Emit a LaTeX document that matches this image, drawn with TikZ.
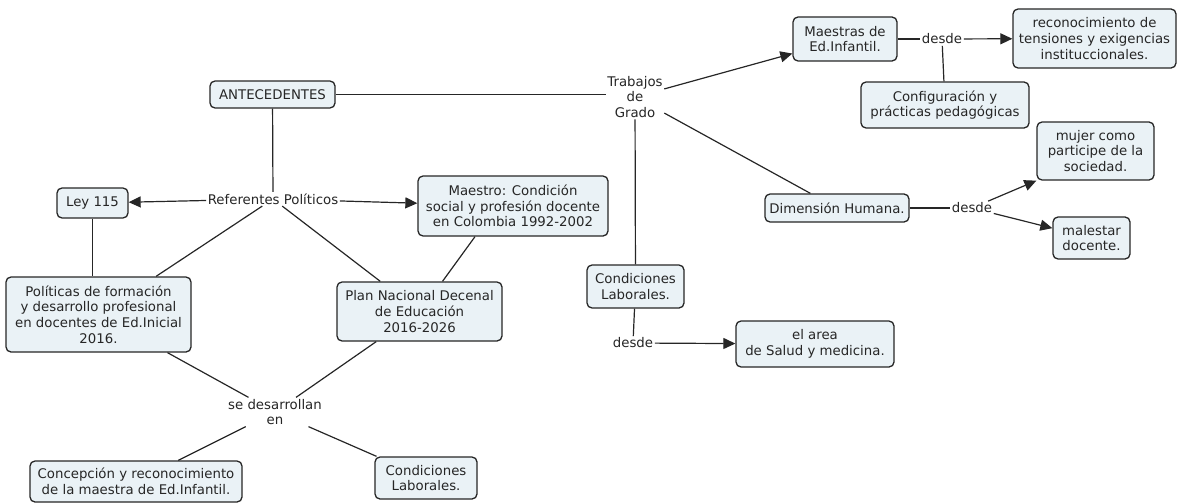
\documentclass[tikz,border=0pt]{standalone}
\usepackage{fontspec}
\setmainfont{DejaVu Sans}
\usetikzlibrary{arrows.meta}
\definecolor{boxfill}{RGB}{234,242,246}
\definecolor{ink}{RGB}{38,38,38}
\begin{document}
\begin{tikzpicture}[x=1pt,y=-1pt,
  every node/.style={font=\fontsize{13.3}{15.6}\selectfont, text=ink},
  concept/.style={rectangle, rounded corners=5pt, draw=ink, line width=1.3pt,
    fill=boxfill, align=center, inner sep=0pt},
  phrase/.style={fill=white, align=center, inner sep=1.5pt},
  link/.style={draw=ink, line width=1.2pt},
  arrowlink/.style={link, -{Triangle[length=12pt,width=11pt]}}]
\useasboundingbox (0,0) rectangle (1177,503);
% concept boxes
\node[concept, minimum width=125, minimum height=27] (ante) at (272.5,94.5) {ANTECEDENTES};
\node[concept, minimum width=104, minimum height=44] (maes) at (845,39) {Maestras de\\Ed.Infantil.};
\node[concept, minimum width=163, minimum height=59] (recon) at (1094.5,38.5) {reconocimiento de\\tensiones y exigencias\\instituccionales.};
\node[concept, minimum width=168, minimum height=46] (config) at (945,105) {Configuración y\\prácticas pedagógicas};
\node[concept, minimum width=144, minimum height=28] (dim) at (837,208) {Dimensión Humana.};
\node[concept, minimum width=117, minimum height=58] (mujer) at (1095.5,151) {mujer como\\participe de la\\sociedad.};
\node[concept, minimum width=77, minimum height=42] (malest) at (1091.5,238) {malestar\\docente.};
\node[concept, minimum width=97, minimum height=43] (condR) at (635.5,286.5) {Condiciones\\Laborales.};
\node[concept, minimum width=158, minimum height=46] (area) at (815,344) {el area\\de Salud y medicina.};
\node[concept, minimum width=71, minimum height=30] (ley) at (92.5,203) {Ley 115};
\node[concept, minimum width=190, minimum height=60] (maestro) at (513,206) {Maestro: Condición\\social y profesión docente\\en Colombia 1992-2002};
\node[concept, minimum width=185, minimum height=75] (polit) at (98.5,314.5) {Políticas de formación\\y desarrollo profesional\\en docentes de Ed.Inicial\\2016.};
\node[concept, minimum width=165, minimum height=59] (plan) at (419.5,311.5) {Plan Nacional Decenal\\de Educación\\2016-2026};
\node[concept, minimum width=212, minimum height=41] (concep) at (136,481.5) {Concepción y reconocimiento\\de la maestra de Ed.Infantil.};
\node[concept, minimum width=102, minimum height=42] (condL) at (426,478) {Condiciones\\Laborales.};
% linking phrases
\node[phrase] (trab) at (635,97) {Trabajos\\de\\Grado};
\node[phrase] (ref) at (273,199) {Referentes Políticos};
\node[phrase] (desdeA) at (942,39) {desde};
\node[phrase] (desdeB) at (972,208) {desde};
\node[phrase] (desdeC) at (633,343) {desde};
\node[phrase] (sedes) at (275,412) {se desarrollan\\en};
% attachment points on the Maestro and Plan boxes
\coordinate (mb) at ([xshift=-38pt]maestro.south);
\coordinate (pt) at ([xshift=23pt]plan.north);
% connectors
\draw[link] (ante) -- (trab.west |- ante);
\draw[link] (ante) -- (ref);
\draw[arrowlink] (ref) -- (ley);
\draw[arrowlink] (ref) -- (maestro);
\draw[link] (ref) -- (polit);
\draw[link] (ref) -- (plan);
\draw[link] (ley) -- (polit.north -| ley);
\draw[link] (mb) -- (pt);
\draw[link] (polit) -- (sedes);
\draw[link] (plan) -- (sedes);
\draw[link] (sedes) -- (concep);
\draw[link] (sedes) -- (condL);
\draw[arrowlink] (trab) -- (maes);
\draw[link] (maes) -- (desdeA);
\draw[arrowlink] (desdeA) -- (recon);
\draw[link] (desdeA) -- (config);
\draw[link] (trab) -- (dim);
\draw[link] (dim) -- (desdeB);
\draw[arrowlink] (desdeB) -- (mujer.south west);
\draw[arrowlink] (desdeB) -- (malest);
\draw[link] (trab) -- (condR);
\draw[link] (condR) -- (desdeC);
\draw[arrowlink] (desdeC) -- (area);
\end{tikzpicture}
\end{document}
